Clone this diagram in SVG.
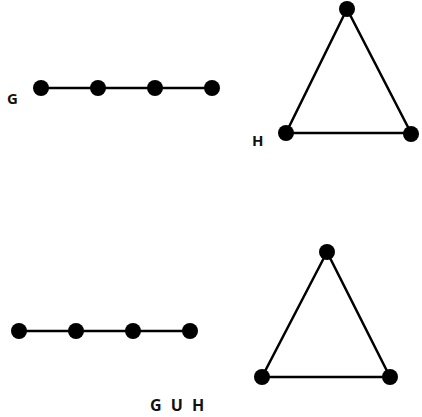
<svg xmlns="http://www.w3.org/2000/svg" width="422" height="417" viewBox="0 0 422 417">
<style>
.e{stroke:#000;stroke-width:2.5;fill:none}
.n{fill:#000}
.t{font-family:"Open Sans","DejaVu Sans",sans-serif;font-weight:bold;fill:#111}
</style>
<rect width="422" height="417" fill="#fff"/>
<g id="edges">
<path class="e" d="M41 88H212"/>
<path class="e" d="M347 9L286 133H411Z"/>
<path class="e" d="M19 331H190"/>
<path class="e" d="M327 252L262 377H390Z"/>
</g>
<g id="G-nodes">
<circle class="n" cx="41" cy="88" r="8"/>
<circle class="n" cx="98" cy="88" r="8"/>
<circle class="n" cx="155" cy="88" r="8"/>
<circle class="n" cx="212" cy="88" r="8"/>
</g>
<g id="H-nodes">
<circle class="n" cx="347" cy="9" r="8"/>
<circle class="n" cx="286" cy="133" r="8"/>
<circle class="n" cx="411" cy="134" r="8"/>
</g>
<g id="U-path-nodes">
<circle class="n" cx="19" cy="331" r="8"/>
<circle class="n" cx="76" cy="331" r="8"/>
<circle class="n" cx="133" cy="331" r="8"/>
<circle class="n" cx="190" cy="331" r="8"/>
</g>
<g id="U-tri-nodes">
<circle class="n" cx="327" cy="252" r="8"/>
<circle class="n" cx="262" cy="377" r="8"/>
<circle class="n" cx="390" cy="377" r="8"/>
</g>
<g id="labels">
<text class="t" x="7" y="104" style="font-size:15px">G</text>
<text class="t" x="252" y="146" style="font-size:15px">H</text>
<text class="t" x="150" y="411" style="font-size:16px;letter-spacing:2.5px">G U H</text>
</g>
</svg>
